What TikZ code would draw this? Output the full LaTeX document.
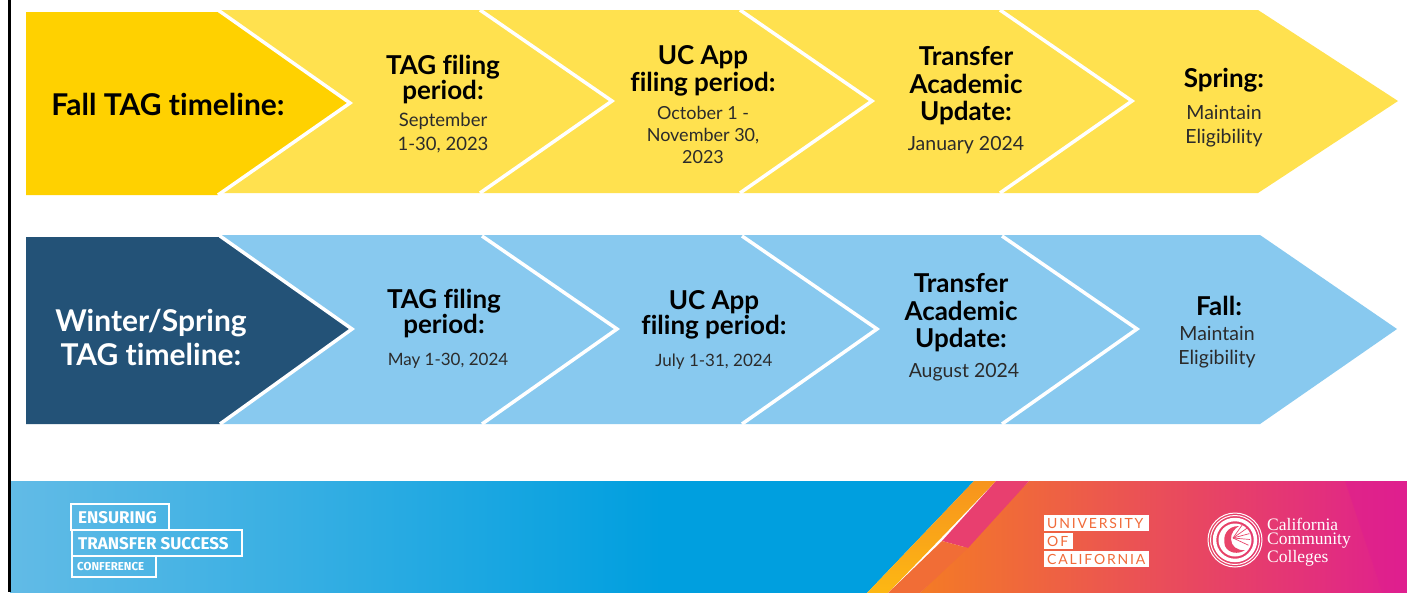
\documentclass[tikz,border=0pt]{standalone}
\usepackage{fontspec}
\setmainfont[Ligatures=NoCommon]{Lato}
\newfontfamily\serifface{Liberation Serif}
\newfontfamily\firaface{Fira Sans}
\newfontfamily\ucface[LetterSpace=13]{Lato}
\definecolor{ydark}{HTML}{FFD100}
\definecolor{ylight}{HTML}{FFE14F}
\definecolor{bdark}{HTML}{235277}
\definecolor{blight}{HTML}{88C9EF}
\definecolor{bandA}{HTML}{62BBE6}
\definecolor{bandB}{HTML}{009FDF}
\definecolor{stripA}{HTML}{F7941D}
\definecolor{stripB}{HTML}{FDB813}
\definecolor{hotA}{HTML}{F47B25}
\definecolor{hotB}{HTML}{E9456A}
\definecolor{hotC}{HTML}{DF1F8F}
\definecolor{bodygrey}{HTML}{2B2B2B}
\tikzset{
  sep/.style={draw=white,line width=3.5pt,miter limit=10,fill=none},
  ttl/.style={inner sep=0pt,align=center,text=black,font=\fontsize{26}{27.5}\selectfont\bfseries},
  ttltight/.style={ttl,font=\fontsize{26}{25}\selectfont\bfseries},
  bod/.style={inner sep=0pt,align=center,text=bodygrey,font=\fontsize{18.5}{24}\selectfont},
  bodsmall/.style={bod,font=\fontsize{17}{24}\selectfont},
  bodbig/.style={bod,font=\fontsize{19.5}{24}\selectfont},
  head/.style={inner sep=0pt,align=center,font=\fontsize{30}{34}\selectfont\bfseries},
  logobox/.style={draw=white,line width=1.5pt,fill=none},
  ettl/.style={inner sep=0pt,anchor=west,text=white,font=\firaface\bfseries\fontsize{17}{17}\selectfont},
  ettlsmall/.style={ettl,font=\firaface\bfseries\fontsize{11.5}{11.5}\selectfont},
  ucbox/.style={fill=white,draw=none},
  uctext/.style={inner sep=0pt,anchor=west,text=hotA!70!hotB,font=\ucface\fontsize{14}{14}\selectfont},
  cccw/.style={inner sep=0pt,anchor=west,text=white,font=\serifface\fontsize{17.5}{17.5}\selectfont}
}
\begin{document}
\begin{tikzpicture}[x=1pt,y=-1pt]
\useasboundingbox (0,0) rectangle (1407,592);
\fill[white] (0,0) rectangle (1407,592);
% footer band
\shade[left color=bandA,right color=bandB] (10,481) rectangle (661,594);
\fill[bandB] (660,481) -- (974,481) -- (866,594) -- (660,594) -- cycle;
\shade[top color=stripA,bottom color=stripB] (974,481) -- (996,481) -- (887,594) -- (866,594) -- cycle;
\shade[left color=hotA,middle color=hotB,right color=hotC] (1029,481) -- (1407,481) -- (1407,594) -- (919,594) -- cycle;
\fill[hotB!85!hotC] (996,481) -- (1029,481) -- (968,548) -- (942,541) -- cycle;
\fill[hotA!75!hotB] (942,541) -- (968,548) -- (919,594) -- (887,594) -- cycle;
\fill[hotC,opacity=.55] (1345,481) -- (1407,481) -- (1407,594) -- (1383,594) -- cycle;
% frame line
\fill[black] (8,0) rectangle (10.5,592);
% Fall row
\fill[ylight] (220,10) -- (1258,10) -- (1398,101) -- (1258,193) -- (220,193) -- cycle;
\fill[ydark] (26,12) -- (218,12) -- (350,103) -- (218,195) -- (26,195) -- cycle;
\draw[sep] (218,10) -- (350,103) -- (218,195);
\draw[sep] (480,10) -- (612,101) -- (480,193);
\draw[sep] (740,10) -- (872,101) -- (740,193);
\draw[sep] (1000,10) -- (1132,101) -- (1000,193);
% Winter/Spring row
\fill[blight] (222,235) -- (1260,235) -- (1397,329) -- (1260,424) -- (222,424) -- cycle;
\fill[bdark] (26,237) -- (220,237) -- (352,329) -- (220,424) -- (26,424) -- cycle;
\draw[sep] (220,236) -- (352,329) -- (220,424);
\draw[sep] (482,236) -- (617,329) -- (482,424);
\draw[sep] (742,236) -- (877,329) -- (742,424);
\draw[sep] (1002,236) -- (1137,329) -- (1002,424);
% Fall text
\node[head,text=black] (fh) at (168,104) {Fall TAG timeline:};
\node[ttltight] (f1t) at (443,80) {TAG filing\\period:};
\node[bod] (f1b) at (443,133) {September\\1-30, 2023};
\node[ttl] (f2t) at (703,71) {UC App\\filing period:};
\node[bod,font=\fontsize{18}{22}\selectfont] (f2b) at (703,135) {October 1 -\\November 30,\\2023};
\node[ttl] (f3t) at (966,86) {Transfer\\Academic\\Update:};
\node[bodbig] (f3b) at (966,145) {January 2024};
\node[ttl] (f4t) at (1224,80) {Spring:};
\node[bodbig] (f4b) at (1224,126) {Maintain\\Eligibility};
% Winter text
\node[head,text=white] (wh) at (151,337) {Winter/Spring\\TAG timeline:};
\node[ttltight] (w1t) at (444,314) {TAG filing\\period:};
\node[bodsmall] (w1b) at (448,361) {May 1-30, 2024};
\node[ttltight] (w2t) at (714,315) {UC App\\filing period:};
\node[bodsmall] (w2b) at (714,362) {July 1-31, 2024};
\node[ttl] (w3t) at (961,313) {Transfer\\Academic\\Update:};
\node[bodbig] (w3b) at (964,372) {August 2024};
\node[ttl] (w4t) at (1219,306) {Fall:};
\node[bodbig] (w4b) at (1217,347) {Maintain\\Eligibility};
% Ensuring logo
\draw[logobox] (71,504) rectangle (169,530);
\draw[logobox] (72,530) rectangle (242,556);
\draw[logobox] (72,556) rectangle (156,577);
\node[ettl] (e1) at (78,518) {ENSURING};
\node[ettl] (e2) at (78,544) {TRANSFER SUCCESS};
\node[ettlsmall] (e3) at (77,567) {CONFERENCE};
% UC logo
\fill[ucbox] (1044,515) rectangle (1149,531);
\fill[ucbox] (1044,533) rectangle (1073,549);
\fill[ucbox] (1044,551) rectangle (1149,567);
\node[uctext] (u1) at (1047,523) {UNIVERSITY};
\node[uctext] (u2) at (1047,541) {OF};
\node[uctext] (u3) at (1047,559) {CALIFORNIA};
% CCC seal
\draw[white,line width=1pt] (1235,540) circle (27);
\draw[white,line width=1pt] (1235,540) circle (24.5);
\fill[white] (1235,540) circle (16.5);
\draw[white,line width=3.5pt] (1235,540) circle (20.5);
\fill[hotB] (1239,526) .. controls (1227,526) and (1222,536) .. (1225,546) .. controls (1228,553) and (1238,555) .. (1245,550) .. controls (1237,551) and (1231,546) .. (1231,539) .. controls (1231,533) and (1234,529) .. (1239,526) -- cycle;
\foreach \a in {-55,-35,-15,5,25}{\draw[hotB,line width=.7pt] (1233,538) -- ++(\a:17);}
\node[cccw] (c1) at (1267,524) {California};
\node[cccw] (c2) at (1267,541) {Community};
\node[cccw] (c3) at (1267,558) {Colleges};
\end{tikzpicture}
\end{document}
